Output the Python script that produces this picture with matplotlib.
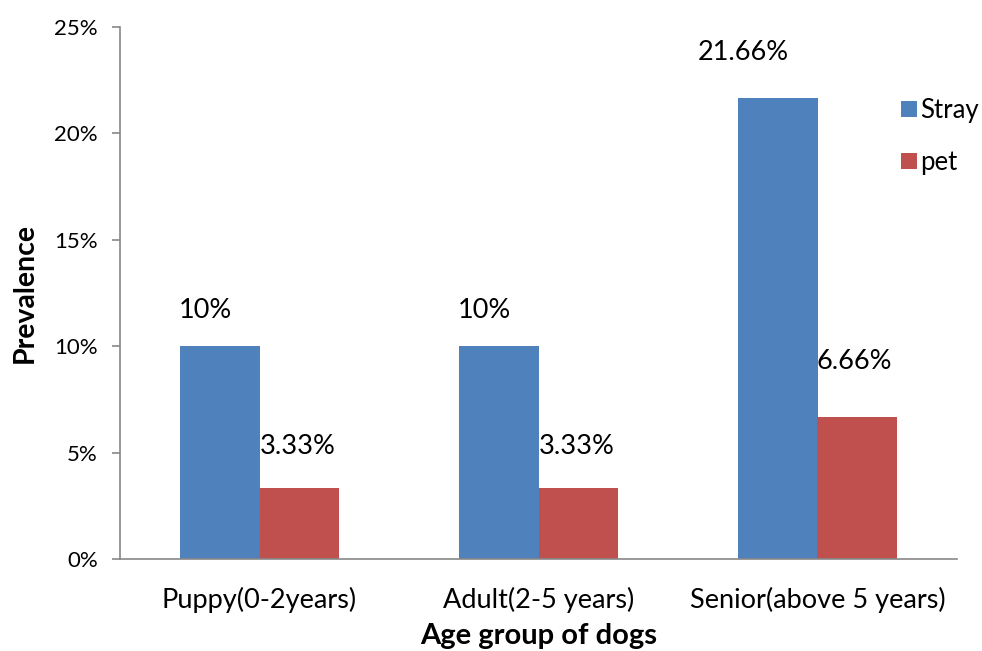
import numpy as np
import matplotlib.pyplot as plt

plt.rcParams['font.family'] = ['Lato', 'DejaVu Sans']

groups = ['Puppy(0-2years)', 'Adult(2-5 years)', 'Senior(above 5 years)']
stray = [10, 10, 21.66]
pet = [3.33, 3.33, 6.66]

# label offsets in pixels (dx, dy) from the top centre of each bar
stray_off = [(-14, 36), (-14, 36), (-34, 46)]
pet_off = [(-2, 42), (-2, 42), (-3, 56)]

fig = plt.figure(figsize=(9.82, 6.51), dpi=100)
ax = fig.add_axes([120 / 982, 1 - 559 / 651, (957 - 120) / 982, (559 - 27) / 651])

x = np.arange(len(groups))
w = 0.286
b1 = ax.bar(x - w / 2, stray, w, color='#4F81BD', label='Stray')
b2 = ax.bar(x + w / 2, pet, w, color='#C0504D', label='pet')

for bars, vals, offs in [(b1, stray, stray_off), (b2, pet, pet_off)]:
    for r, v, (dx, dy) in zip(bars, vals, offs):
        ax.annotate(f'{v:g}%', (r.get_x() + r.get_width() / 2, v),
                    xytext=(dx * 0.72, dy * 0.72), textcoords='offset points',
                    ha='center', va='center', fontsize=19.5)

ax.set_xlim(-0.5, 2.5)
ax.set_ylim(0, 25)
ax.set_yticks(range(0, 26, 5))
ax.set_yticklabels([f'{t}%' for t in range(0, 26, 5)], fontsize=16)
ax.set_xticks(x)
ax.set_xticklabels(groups, fontsize=19.5)
ax.tick_params(axis='x', length=0, pad=20)
ax.tick_params(axis='y', length=6, width=1.2, color='#888888', pad=10)

for s in ['top', 'right']:
    ax.spines[s].set_visible(False)
for s in ['left', 'bottom']:
    ax.spines[s].set_color('#888888')
    ax.spines[s].set_linewidth(1.2)

ax.set_xlabel('Age group of dogs', fontsize=21, fontweight='bold', labelpad=7)
ax.set_ylabel('Prevalence', fontsize=20.5, fontweight='bold', labelpad=12)

ax.legend(loc='upper left', bbox_to_anchor=(0.921, 0.886), frameon=False,
          fontsize=18.5, handlelength=0.6, handleheight=0.6, handletextpad=0.15,
          labelspacing=1.05, borderaxespad=0)

fig.savefig('out.png', dpi=100)
